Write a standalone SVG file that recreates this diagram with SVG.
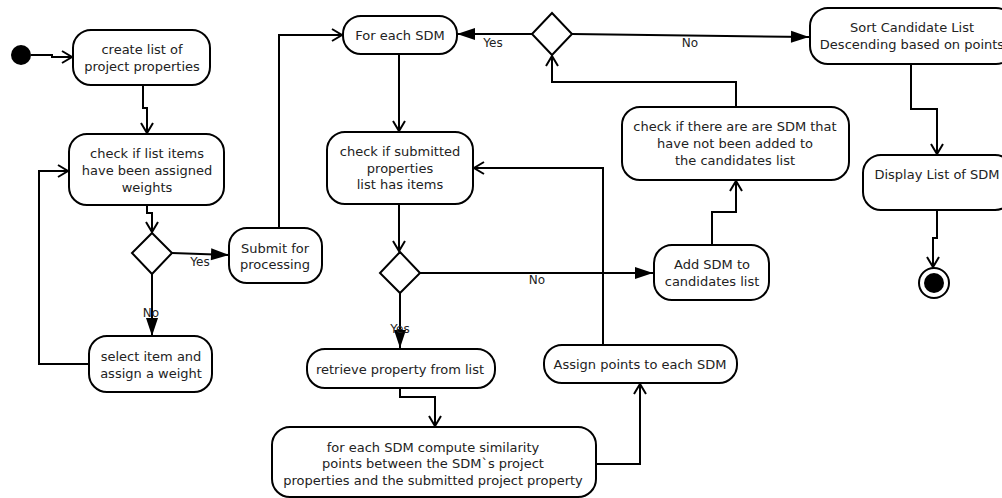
<svg xmlns="http://www.w3.org/2000/svg" width="1002" height="498" viewBox="0 0 1002 498">
  <style>
    .node rect { fill: #fff; stroke: #000; stroke-width: 2; }
    .node polygon { fill: #fff; stroke: #000; stroke-width: 2; }
    .node text { font-family: "DejaVu Sans", sans-serif; font-size: 13px; fill: #222; text-anchor: middle; }
    .edge { fill: none; stroke: #000; stroke-width: 2; }
    .open { marker-end: url(#open); }
    .solid { marker-end: url(#solid); }
    .lbl { font-family: "DejaVu Sans", sans-serif; font-size: 12px; fill: #222; text-anchor: middle; }
  </style>
  <defs>
    <marker id="open" markerUnits="userSpaceOnUse" markerWidth="14" markerHeight="14" refX="10" refY="6" orient="auto" overflow="visible">
      <path d="M0,0 L10,6 L0,12" fill="none" stroke="#000" stroke-width="2"/>
    </marker>
    <marker id="solid" markerUnits="userSpaceOnUse" markerWidth="20" markerHeight="14" refX="18" refY="6" orient="auto" overflow="visible">
      <path d="M0,0 L18,6 L0,12 z" fill="#000" stroke="none"/>
    </marker>
  </defs>

  <g id="connectors">
    <path class="edge open" d="M31,55 H52 V57 H72"/>
    <path class="edge open" d="M143,85 V108 H147 V133"/>
    <path class="edge open" d="M147,205 V213 H152 V232"/>
    <path class="edge solid" d="M172,253 L229,255"/>
    <path class="edge solid" d="M152,274 V336"/>
    <path class="edge open" d="M89,364 H39 V171 H68"/>
    <path class="edge open" d="M279,228 V35 H342"/>
    <path class="edge solid" d="M532,34 H457"/>
    <path class="edge solid" d="M572,34 L809,37"/>
    <path class="edge open" d="M399,54 V131"/>
    <path class="edge open" d="M399,204 V251"/>
    <path class="edge solid" d="M420,273 H653"/>
    <path class="edge solid" d="M400,293 V348"/>
    <path class="edge open" d="M400,388 V397 H435 V426"/>
    <path class="edge open" d="M596,464 H640 V384"/>
    <path class="edge open" d="M603,345 V168 H474"/>
    <path class="edge open" d="M712,245 V212 H736 V181"/>
    <path class="edge open" d="M736,107 V82 H552 V56"/>
    <path class="edge open" d="M911,64 V109 H937 V154"/>
    <path class="edge open" d="M937,210 V238 H933 V267"/>
    <text class="lbl" x="200" y="266">Yes</text>
    <text class="lbl" x="151" y="317">No</text>
    <text class="lbl" x="493" y="47">Yes</text>
    <text class="lbl" x="690" y="47">No</text>
    <text class="lbl" x="537" y="284">No</text>
    <text class="lbl" x="400" y="333">Yes</text>
  </g>

  <g id="start">
    <circle cx="21" cy="55" r="10" fill="#000"/>
  </g>

  <g id="create-list" class="node">
    <rect x="73" y="30" width="137" height="55" rx="18"/>
    <text x="142" y="54">create list of</text>
    <text x="142" y="71">project properties</text>
  </g>

  <g id="check-weights" class="node">
    <rect x="69" y="134" width="155" height="71" rx="18"/>
    <text x="147" y="158">check if list items</text>
    <text x="147" y="175">have been assigned</text>
    <text x="147" y="192">weights</text>
  </g>

  <g id="decision-weights" class="node">
    <polygon points="152,233 172,253 152,274 132,253"/>
  </g>

  <g id="select-item" class="node">
    <rect x="89" y="336" width="123" height="56" rx="18"/>
    <text x="151" y="361">select item and</text>
    <text x="151" y="378">assign a weight</text>
  </g>

  <g id="submit" class="node">
    <rect x="229" y="228" width="93" height="55" rx="18"/>
    <text x="275" y="253">Submit for</text>
    <text x="275" y="269">processing</text>
  </g>

  <g id="for-each-sdm" class="node">
    <rect x="343" y="16" width="114" height="38" rx="18"/>
    <text x="400" y="40">For each SDM</text>
  </g>

  <g id="decision-remaining" class="node">
    <polygon points="552,13 572,34 552,55 532,34"/>
  </g>

  <g id="sort-candidates" class="node">
    <rect x="810" y="8" width="204" height="56" rx="18"/>
    <text x="912" y="32">Sort Candidate List</text>
    <text x="912" y="49">Descending based on points</text>
  </g>

  <g id="display-list" class="node">
    <rect x="863" y="155" width="150" height="55" rx="18"/>
    <text x="937" y="179">Display List of SDM</text>
  </g>

  <g id="end">
    <circle cx="934" cy="283" r="15" fill="#fff" stroke="#000" stroke-width="2"/>
    <circle cx="934" cy="283" r="10" fill="#000"/>
  </g>

  <g id="check-submitted" class="node">
    <rect x="327" y="132" width="146" height="72" rx="18"/>
    <text x="400" y="156">check if submitted</text>
    <text x="400" y="173">properties</text>
    <text x="400" y="189">list has items</text>
  </g>

  <g id="decision-items" class="node">
    <polygon points="400,252 420,273 400,293 380,273"/>
  </g>

  <g id="retrieve-property" class="node">
    <rect x="307" y="349" width="188" height="39" rx="18"/>
    <text x="400" y="374">retrieve property from list</text>
  </g>

  <g id="compute-similarity" class="node">
    <rect x="272" y="427" width="324" height="70" rx="18"/>
    <text x="433" y="452">for each SDM compute similarity</text>
    <text x="433" y="468">points between the SDM`s project</text>
    <text x="433" y="485">properties and the submitted project property</text>
  </g>

  <g id="assign-points" class="node">
    <rect x="544" y="345" width="193" height="38" rx="18"/>
    <text x="640" y="369">Assign points to each SDM</text>
  </g>

  <g id="add-sdm" class="node">
    <rect x="654" y="245" width="115" height="55" rx="18"/>
    <text x="712" y="269">Add SDM to</text>
    <text x="712" y="286">candidates list</text>
  </g>

  <g id="check-remaining" class="node">
    <rect x="622" y="107" width="227" height="73" rx="18"/>
    <text x="735" y="131">check if there are are SDM that</text>
    <text x="735" y="148">have not been added to</text>
    <text x="735" y="165">the candidates list</text>
  </g>
</svg>
